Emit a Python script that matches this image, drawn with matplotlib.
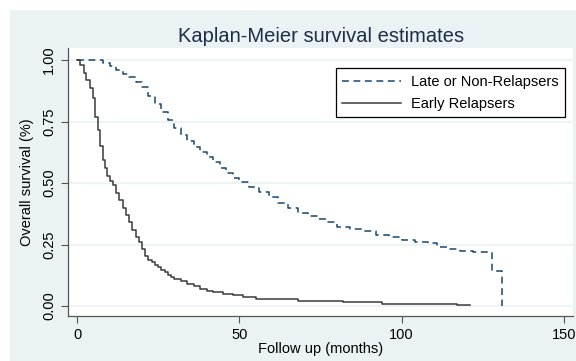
import matplotlib
matplotlib.use("Agg")
import matplotlib.pyplot as plt
from matplotlib.patches import Rectangle

plt.rcParams['font.family'] = ['Liberation Sans', 'DejaVu Sans']

# Late or Non-Relapsers (time in months, survival)
late_t = [0, 8, 10, 12, 14, 16, 18, 20, 22, 24, 26, 28, 30, 32, 34, 36, 38, 40,
          42, 44, 46, 48, 50, 53, 56, 59, 62, 65, 68, 71, 74, 77, 80, 84, 88, 92,
          96, 100, 104, 108, 111, 114, 118, 122, 127.8, 130.9]
late_s = [1.0, 0.99, 0.975, 0.96, 0.945, 0.93, 0.91, 0.89, 0.855, 0.82, 0.79,
          0.755, 0.725, 0.695, 0.67, 0.645, 0.625, 0.605, 0.585, 0.56, 0.54, 0.52,
          0.505, 0.485, 0.465, 0.445, 0.42, 0.40, 0.38, 0.365, 0.355, 0.34, 0.322,
          0.315, 0.305, 0.29, 0.28, 0.268, 0.262, 0.255, 0.24, 0.232, 0.225, 0.22,
          0.143, 0.0]

# Early Relapsers
early_t = [0, 0.9, 2.2, 2.9, 4, 4.9, 5.6, 6.4, 7.2, 7.9, 8.6, 9.3, 10.2, 11, 12,
           13, 14, 15, 16, 17, 18, 19, 20, 21, 22, 23, 24, 25, 26, 27, 28, 29, 30,
           32, 34, 36, 38, 40, 42, 45, 48, 51, 55, 68, 82, 94, 117, 121]
early_s = [1.0, 0.98, 0.946, 0.92, 0.885, 0.845, 0.77, 0.715, 0.65, 0.595, 0.56,
           0.53, 0.51, 0.49, 0.46, 0.43, 0.40, 0.37, 0.34, 0.31, 0.28, 0.26, 0.23,
           0.205, 0.187, 0.177, 0.168, 0.158, 0.148, 0.138, 0.128, 0.118, 0.11,
           0.10, 0.09, 0.08, 0.07, 0.06, 0.055, 0.05, 0.045, 0.035, 0.03, 0.02,
           0.015, 0.01, 0.004, 0.004]

yticks = [0, 0.25, 0.5, 0.75, 1.0]
xticks = [0, 50, 100, 150]

bg = '#eaf2f3'
fig = plt.figure(figsize=(5.76, 3.61), dpi=100, facecolor='white')
fig.patches.append(Rectangle((10 / 576, 0), 1, 1 - 10 / 361, transform=fig.transFigure,
                             facecolor=bg, edgecolor='none', zorder=-1))

ax = fig.add_axes([68 / 576, 1 - 316 / 361, 505 / 576, 268 / 361])
ax.set_facecolor('white')

ax.step(late_t, late_s, where='post', color='#1a476f', lw=1.1,
        linestyle=(0, (4.5, 3)), label='Late or Non-Relapsers')
ax.step(early_t, early_s, where='post', color='#3a3a3a', lw=1.1,
        label='Early Relapsers')

ax.set_xlim(-2.8, 152.8)
ax.set_ylim(-0.0407, 1.049)
ax.set_xticks(xticks)
ax.set_yticks(yticks)
ax.set_yticklabels(['%.2f' % v for v in yticks], rotation=90, va='center')
ax.tick_params(axis='both', direction='out', length=5, width=0.8, colors='#555555',
               labelcolor='black', labelsize=10.5)
ax.grid(axis='y', color=bg, lw=1.2)
ax.set_axisbelow(True)

for side in ['top', 'right']:
    ax.spines[side].set_visible(False)
for side in ['left', 'bottom']:
    ax.spines[side].set_color('#555555')
    ax.spines[side].set_linewidth(0.9)

ax.set_xlabel('Follow up (months)', fontsize=10.5, labelpad=0)
ax.set_ylabel('Overall survival (%)', fontsize=10.5, labelpad=6)
fig.text(321 / 576, 1 - 37 / 361, 'Kaplan-Meier survival estimates', fontsize=14.5,
         color='#1e2d4a', ha='center', va='center')

leg = ax.legend(loc='upper right', bbox_to_anchor=(0.984, 0.925), fontsize=10.5,
                fancybox=False, framealpha=1, edgecolor='black', handlelength=4.0,
                borderpad=0.45, labelspacing=0.55, handletextpad=0.7,
                borderaxespad=0)
leg.get_frame().set_linewidth(0.9)

fig.savefig('out.png', dpi=100, facecolor='white')
